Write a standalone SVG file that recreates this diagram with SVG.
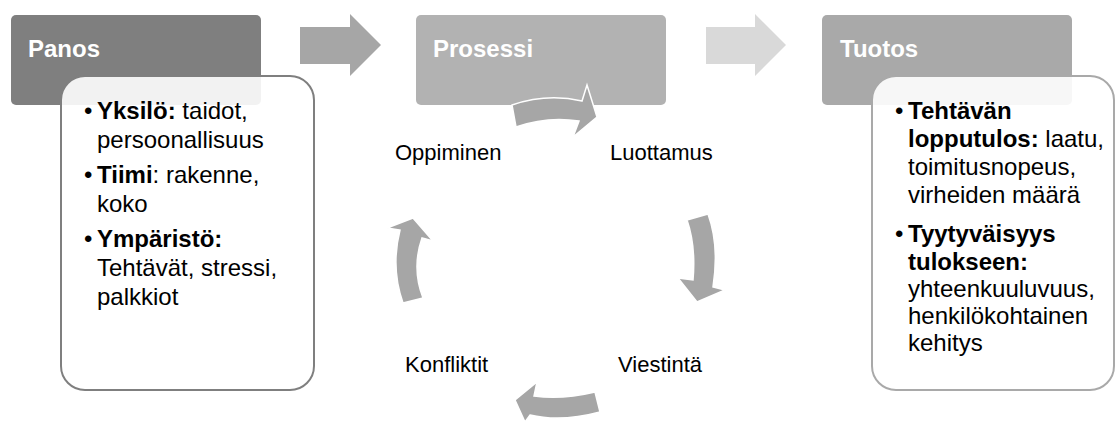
<svg xmlns="http://www.w3.org/2000/svg" width="1115" height="423" viewBox="0 0 1115 423">
<style>
.hdr{font-family:"Liberation Sans",Arial,sans-serif;font-weight:bold;font-size:24px;fill:#ffffff}
.body{font-family:"Liberation Sans",Arial,sans-serif;font-size:24px;fill:#000000}
.b{font-weight:bold}
.lbl{font-family:"Liberation Sans",Arial,sans-serif;font-size:22px;fill:#000000}
.card{fill:#ffffff;fill-opacity:0.9;stroke-width:2}
.carr{fill:#a6a6a6;stroke:#ffffff;stroke-width:1.5;stroke-linejoin:miter}
</style>
<rect width="1115" height="423" fill="#ffffff"/>
<g id="panos">
  <rect x="11" y="15" width="250" height="90" rx="5" fill="#7f7f7f"/>
  <text class="hdr" x="28" y="57">Panos</text>
  <rect class="card" x="61" y="76" width="253" height="314" rx="24" stroke="#7f7f7f"/>
  <text class="body" x="84" y="119">•</text>
  <text class="body" x="97" y="119"><tspan class="b">Yksilö:</tspan> taidot,</text>
  <text class="body" x="97" y="148">persoonallisuus</text>
  <text class="body" x="84" y="183">•</text>
  <text class="body" x="97" y="183"><tspan class="b">Tiimi</tspan>: rakenne,</text>
  <text class="body" x="97" y="212">koko</text>
  <text class="body" x="84" y="247">•</text>
  <text class="body" x="97" y="247"><tspan class="b">Ympäristö:</tspan></text>
  <text class="body" x="97" y="276">Tehtävät, stressi,</text>
  <text class="body" x="97" y="305">palkkiot</text>
</g>
<g id="prosessi">
  <rect x="416" y="15" width="250" height="90" rx="5" fill="#b2b2b2"/>
  <text class="hdr" x="433" y="57">Prosessi</text>
</g>
<g id="tuotos">
  <rect x="822" y="15" width="250" height="90" rx="5" fill="#a9a9a9"/>
  <text class="hdr" x="840" y="57">Tuotos</text>
  <rect class="card" x="872" y="76" width="242" height="314" rx="24" stroke="#a9a9a9"/>
  <text class="body" x="895" y="119">•</text>
  <text class="body b" x="908" y="119">Tehtävän</text>
  <text class="body" x="908" y="147"><tspan class="b">lopputulos:</tspan> laatu,</text>
  <text class="body" x="908" y="175">toimitusnopeus,</text>
  <text class="body" x="908" y="203">virheiden määrä</text>
  <text class="body" x="895" y="242">•</text>
  <text class="body b" x="908" y="242">Tyytyväisyys</text>
  <text class="body b" x="908" y="270">tulokseen:</text>
  <text class="body" x="908" y="297">yhteenkuuluvuus,</text>
  <text class="body" x="908" y="324">henkilökohtainen</text>
  <text class="body" x="908" y="351">kehitys</text>
</g>
<g id="oppiminen"><text class="lbl" x="395" y="160">Oppiminen</text></g>
<g id="luottamus"><text class="lbl" x="610" y="160">Luottamus</text></g>
<g id="viestinta"><text class="lbl" x="618" y="372">Viestintä</text></g>
<g id="konfliktit"><text class="lbl" x="405" y="372">Konfliktit</text></g>
<g id="connectors">
  <polygon points="300,27 350,27 350,14 381,45 350,76 350,64 300,64" fill="#a6a6a6"/>
  <polygon points="706,27 755,27 755,14 786,45 755,76 755,64 706,64" fill="#d9d9d9"/>
  <path class="carr" d="M512,105 Q547,93 582,101 L587,85 L597,117 L573,137 L579,121 Q547,116 516,127 Z"/>
  <path class="carr" d="M687,220 L708,214 Q719.5,245.5 713,287 L725,290 L697,302 L678,278 L693,280 Q696,246 687,220 Z"/>
  <path class="carr" d="M595,392 Q561.5,400 534,396 L537,382 L515,400 L525,422 L530,415 Q561,422.5 600,412 Z"/>
  <path class="carr" d="M403,303 L423,298 Q411.5,268 422,238 L433,241 L413,218 L387,228 L400,230 Q390.5,267.5 403,303 Z"/>
</g>
</svg>
